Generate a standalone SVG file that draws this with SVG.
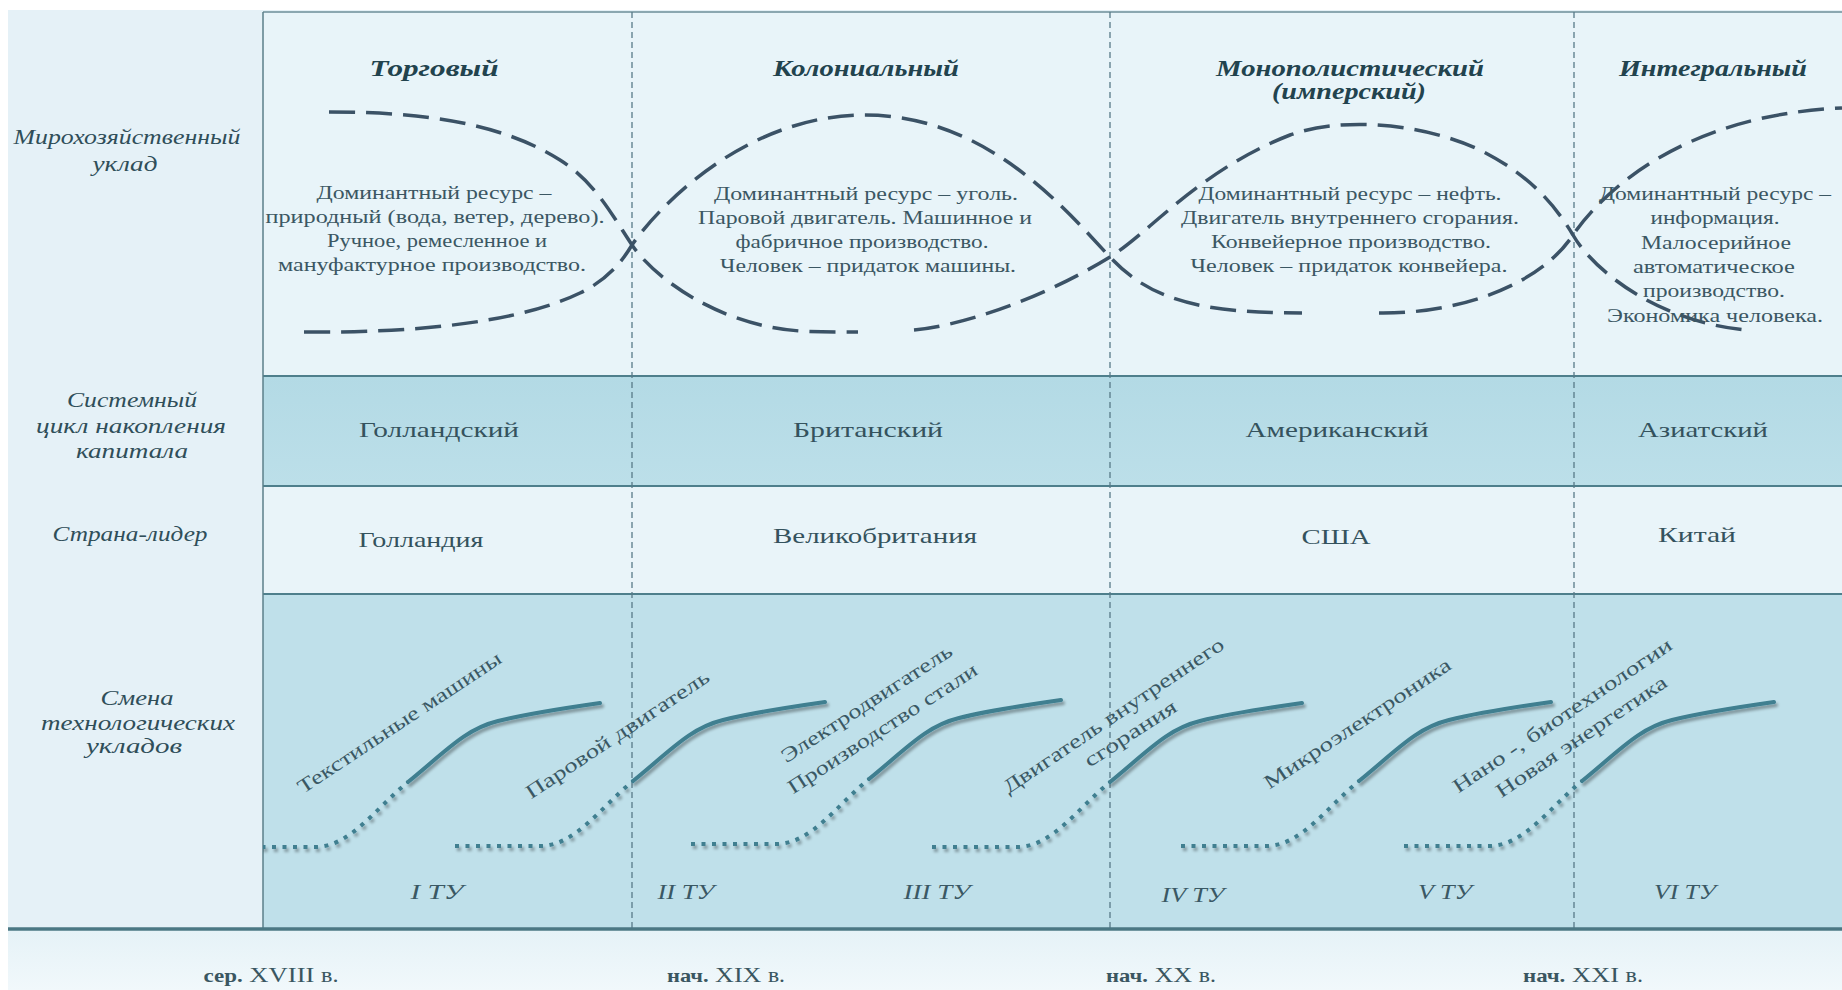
<svg xmlns="http://www.w3.org/2000/svg" width="1842" height="990" viewBox="0 0 1842 990">
<defs>
<style>
.t{font-family:"Liberation Serif","Times New Roman",serif;fill:#3b5763;}
.d{font-size:19px;text-anchor:middle;}
.h{font-size:24px;font-weight:bold;font-style:italic;text-anchor:middle;fill:#22434e;}
.l{font-size:22px;font-style:italic;text-anchor:middle;fill:#2f4e59;}
.v{font-size:22px;text-anchor:middle;fill:#34525d;}
.tu{font-size:21px;font-style:italic;text-anchor:middle;fill:#3a5864;}
.tl{font-size:20px;text-anchor:middle;fill:#3a5864;}
.dt{font-size:22px;text-anchor:middle;fill:#3a5661;}
.eco{fill:none;stroke:#3b5266;stroke-width:3.5;stroke-dasharray:26 11;}
.vd{stroke:#587a88;stroke-width:1.3;stroke-dasharray:6 4;}
.hl{stroke:#4e7f8c;stroke-width:2;}
.sol{fill:none;stroke:#3f7f90;stroke-width:4;stroke-linecap:round;}
.dot{fill:none;stroke:#3f7f90;stroke-width:4;stroke-dasharray:4 6.5;}
</style>
<linearGradient id="g2" x1="0" y1="0" x2="0" y2="1">
<stop offset="0" stop-color="#b3dae5"/><stop offset="1" stop-color="#bcdfe9"/>
</linearGradient>
<linearGradient id="gb" x1="0" y1="0" x2="0" y2="1">
<stop offset="0" stop-color="#e5f2f7"/><stop offset="1" stop-color="#f1f8fb"/>
</linearGradient>
<filter id="sh" x="-10%" y="-30%" width="130%" height="170%">
<feGaussianBlur in="SourceAlpha" stdDeviation="1.6"/>
<feOffset dx="1.5" dy="2.5" result="b"/>
<feComponentTransfer><feFuncA type="linear" slope="0.35"/></feComponentTransfer>
<feMerge><feMergeNode/><feMergeNode in="SourceGraphic"/></feMerge>
</filter>
<clipPath id="tc"><rect x="263" y="594" width="1579" height="335"/></clipPath>
<g id="ts">
<path class="dot" d="M0,0 L85,0 C120,0 145,-38 178,-65"/>
<path class="sol" d="M178,-65 C215,-95 235,-118 268,-126 C300,-134 335,-139 370,-144"/>
</g>
</defs>

<g id="background">
<rect x="0" y="0" width="1842" height="990" fill="#ffffff"/>
<rect x="8" y="10" width="1834" height="980" fill="#e5f1f7"/>
<rect x="263" y="12" width="1579" height="364" fill="#e8f4f9"/>
<rect x="263" y="376" width="1579" height="110" fill="url(#g2)"/>
<rect x="263" y="486" width="1579" height="108" fill="#e9f4f9"/>
<rect x="263" y="594" width="1579" height="335" fill="#bfe0ea"/>
<rect x="8" y="929" width="1834" height="61" fill="url(#gb)"/>
</g>

<g id="grid">
<line x1="263" y1="12" x2="1842" y2="12" stroke="#6d8e98" stroke-width="1.5"/>
<line class="hl" x1="263" y1="376" x2="1842" y2="376"/>
<line class="hl" x1="263" y1="486" x2="1842" y2="486"/>
<line class="hl" x1="263" y1="594" x2="1842" y2="594"/>
<line x1="263" y1="12" x2="263" y2="929" stroke="#5b7f8a" stroke-width="1.5"/>
<line class="vd" x1="632" y1="12" x2="632" y2="929"/>
<line class="vd" x1="1110" y1="12" x2="1110" y2="929"/>
<line class="vd" x1="1574" y1="12" x2="1574" y2="929"/>
<line x1="8" y1="929" x2="1842" y2="929" stroke="#4b7884" stroke-width="3.5"/>
</g>

<g id="row-labels" class="t">
<g id="label-uklad">
<text class="l" x="127" y="144" textLength="227" lengthAdjust="spacingAndGlyphs">Мирохозяйственный</text>
<text class="l" x="125" y="171" textLength="65" lengthAdjust="spacingAndGlyphs">уклад</text>
</g>
<g id="label-cycle">
<text class="l" x="132" y="407" textLength="130" lengthAdjust="spacingAndGlyphs">Системный</text>
<text class="l" x="131" y="433" textLength="190" lengthAdjust="spacingAndGlyphs">цикл накопления</text>
<text class="l" x="132" y="458" textLength="112" lengthAdjust="spacingAndGlyphs">капитала</text>
</g>
<g id="label-leader">
<text class="l" x="130" y="541" textLength="155" lengthAdjust="spacingAndGlyphs">Страна-лидер</text>
</g>
<g id="label-tech">
<text class="l" x="137" y="705" textLength="73" lengthAdjust="spacingAndGlyphs">Смена</text>
<text class="l" x="138" y="730" textLength="194" lengthAdjust="spacingAndGlyphs">технологических</text>
<text class="l" x="134" y="753" textLength="96" lengthAdjust="spacingAndGlyphs">укладов</text>
</g>
</g>

<g id="economic-curves">
<path class="eco" d="M329,112 C420,112 500,122 560,160 C595,182 612,215 632,245 C652,275 715,325 800,331 C820,332 840,332 858,332"/>
<path class="eco" d="M914,330 C960,326 1040,300 1110,257 C1150,232 1200,170 1290,135 C1340,117 1420,122 1480,150 C1530,175 1555,205 1573,235 C1590,265 1650,320 1745,330"/>
<path class="eco" d="M304,332 C420,333 520,322 580,293 C605,281 620,265 632,245 C652,215 740,115 865,115 C990,115 1070,215 1110,257 C1150,300 1200,313 1302,313"/>
<path class="eco" d="M1379,313 C1460,314 1540,285 1573,235 C1600,195 1680,115 1842,108"/>
</g>

<g id="col-trade" class="t">
<text class="h" x="434" y="76" textLength="129" lengthAdjust="spacingAndGlyphs">Торговый</text>
<text class="d" x="434" y="199" textLength="235" lengthAdjust="spacingAndGlyphs">Доминантный ресурс –</text>
<text class="d" x="435" y="223" textLength="339" lengthAdjust="spacingAndGlyphs">природный (вода, ветер, дерево).</text>
<text class="d" x="437" y="247" textLength="220" lengthAdjust="spacingAndGlyphs">Ручное, ремесленное и</text>
<text class="d" x="432" y="271" textLength="308" lengthAdjust="spacingAndGlyphs">мануфактурное производство.</text>
</g>
<g id="col-colonial" class="t">
<text class="h" x="866" y="76" textLength="186" lengthAdjust="spacingAndGlyphs">Колониальный</text>
<text class="d" x="866" y="200" textLength="304" lengthAdjust="spacingAndGlyphs">Доминантный ресурс – уголь.</text>
<text class="d" x="865" y="224" textLength="334" lengthAdjust="spacingAndGlyphs">Паровой двигатель. Машинное и</text>
<text class="d" x="862" y="248" textLength="253" lengthAdjust="spacingAndGlyphs">фабричное производство.</text>
<text class="d" x="868" y="272" textLength="296" lengthAdjust="spacingAndGlyphs">Человек – придаток машины.</text>
</g>
<g id="col-monopoly" class="t">
<text class="h" x="1350" y="76" textLength="268" lengthAdjust="spacingAndGlyphs">Монополистический</text>
<text class="h" x="1349" y="99" textLength="154" lengthAdjust="spacingAndGlyphs">(имперский)</text>
<text class="d" x="1350" y="200" textLength="303" lengthAdjust="spacingAndGlyphs">Доминантный ресурс – нефть.</text>
<text class="d" x="1350" y="224" textLength="338" lengthAdjust="spacingAndGlyphs">Двигатель внутреннего сгорания.</text>
<text class="d" x="1351" y="248" textLength="280" lengthAdjust="spacingAndGlyphs">Конвейерное производство.</text>
<text class="d" x="1349" y="272" textLength="317" lengthAdjust="spacingAndGlyphs">Человек – придаток конвейера.</text>
</g>
<g id="col-integral" class="t">
<text class="h" x="1713" y="76" textLength="188" lengthAdjust="spacingAndGlyphs">Интегральный</text>
<text class="d" x="1715" y="200" textLength="232" lengthAdjust="spacingAndGlyphs">Доминантный ресурс –</text>
<text class="d" x="1715" y="224" textLength="129" lengthAdjust="spacingAndGlyphs">информация.</text>
<text class="d" x="1716" y="249" textLength="150" lengthAdjust="spacingAndGlyphs">Малосерийное</text>
<text class="d" x="1714" y="273" textLength="162" lengthAdjust="spacingAndGlyphs">автоматическое</text>
<text class="d" x="1714" y="297" textLength="142" lengthAdjust="spacingAndGlyphs">производство.</text>
<text class="d" x="1715" y="322" textLength="216" lengthAdjust="spacingAndGlyphs">Экономика человека.</text>
</g>

<g id="cycles" class="t">
<text class="v" x="439" y="437" textLength="160" lengthAdjust="spacingAndGlyphs">Голландский</text>
<text class="v" x="868" y="437" textLength="150" lengthAdjust="spacingAndGlyphs">Британский</text>
<text class="v" x="1337" y="437" textLength="183" lengthAdjust="spacingAndGlyphs">Американский</text>
<text class="v" x="1703" y="437" textLength="130" lengthAdjust="spacingAndGlyphs">Азиатский</text>
</g>
<g id="leaders" class="t">
<text class="v" x="421" y="547" textLength="125" lengthAdjust="spacingAndGlyphs">Голландия</text>
<text class="v" x="875" y="543" textLength="204" lengthAdjust="spacingAndGlyphs">Великобритания</text>
<text class="v" x="1336" y="544" textLength="69" lengthAdjust="spacingAndGlyphs">США</text>
<text class="v" x="1697" y="542" textLength="78" lengthAdjust="spacingAndGlyphs">Китай</text>
</g>

<g id="tech-curves" clip-path="url(#tc)" filter="url(#sh)">
<use href="#ts" transform="translate(230,847)"/>
<use href="#ts" transform="translate(455,846)"/>
<use href="#ts" transform="translate(691,844)"/>
<use href="#ts" transform="translate(932,847)"/>
<use href="#ts" transform="translate(1181,846)"/>
<use href="#ts" transform="translate(1404,846)"/>
</g>

<g id="tech-labels" class="t">
<text class="tl" transform="translate(403,728) rotate(-33.5)" textLength="240" lengthAdjust="spacingAndGlyphs">Текстильные машины</text>
<text class="tl" transform="translate(621,740) rotate(-33.5)" textLength="216" lengthAdjust="spacingAndGlyphs">Паровой двигатель</text>
<text class="tl" transform="translate(870,709) rotate(-33)" textLength="200" lengthAdjust="spacingAndGlyphs">Электродвигатель</text>
<text class="tl" transform="translate(886,734) rotate(-33)" textLength="222" lengthAdjust="spacingAndGlyphs">Производство стали</text>
<text class="tl" transform="translate(1117,721) rotate(-34)" textLength="262" lengthAdjust="spacingAndGlyphs">Двигатель внутреннего</text>
<text class="tl" transform="translate(1134,739) rotate(-33)" textLength="106" lengthAdjust="spacingAndGlyphs">сгорания</text>
<text class="tl" transform="translate(1361,729) rotate(-33.5)" textLength="220" lengthAdjust="spacingAndGlyphs">Микроэлектроника</text>
<text class="tl" transform="translate(1566,721) rotate(-34)" textLength="260" lengthAdjust="spacingAndGlyphs">Нано -, биотехнологии</text>
<text class="tl" transform="translate(1585,742) rotate(-34)" textLength="202" lengthAdjust="spacingAndGlyphs">Новая энергетика</text>
</g>

<g id="tu-labels" class="t">
<text class="tu" x="437" y="899" textLength="53" lengthAdjust="spacingAndGlyphs">I ТУ</text>
<text class="tu" x="686" y="899" textLength="57" lengthAdjust="spacingAndGlyphs">II ТУ</text>
<text class="tu" x="937" y="899" textLength="67" lengthAdjust="spacingAndGlyphs">III ТУ</text>
<text class="tu" x="1193" y="902" textLength="63" lengthAdjust="spacingAndGlyphs">IV ТУ</text>
<text class="tu" x="1445" y="899" textLength="54" lengthAdjust="spacingAndGlyphs">V ТУ</text>
<text class="tu" x="1685" y="899" textLength="62" lengthAdjust="spacingAndGlyphs">VI ТУ</text>
</g>

<g id="dates" class="t">
<text class="dt" x="271" y="982" textLength="135" lengthAdjust="spacingAndGlyphs"><tspan font-weight="bold" font-size="19">сер.</tspan> XVIII <tspan font-size="20">в.</tspan></text>
<text class="dt" x="726" y="982" textLength="118" lengthAdjust="spacingAndGlyphs"><tspan font-weight="bold" font-size="19">нач.</tspan> XIX <tspan font-size="20">в.</tspan></text>
<text class="dt" x="1161" y="982" textLength="110" lengthAdjust="spacingAndGlyphs"><tspan font-weight="bold" font-size="19">нач.</tspan> XX <tspan font-size="20">в.</tspan></text>
<text class="dt" x="1583" y="982" textLength="120" lengthAdjust="spacingAndGlyphs"><tspan font-weight="bold" font-size="19">нач.</tspan> XXI <tspan font-size="20">в.</tspan></text>
</g>
</svg>
